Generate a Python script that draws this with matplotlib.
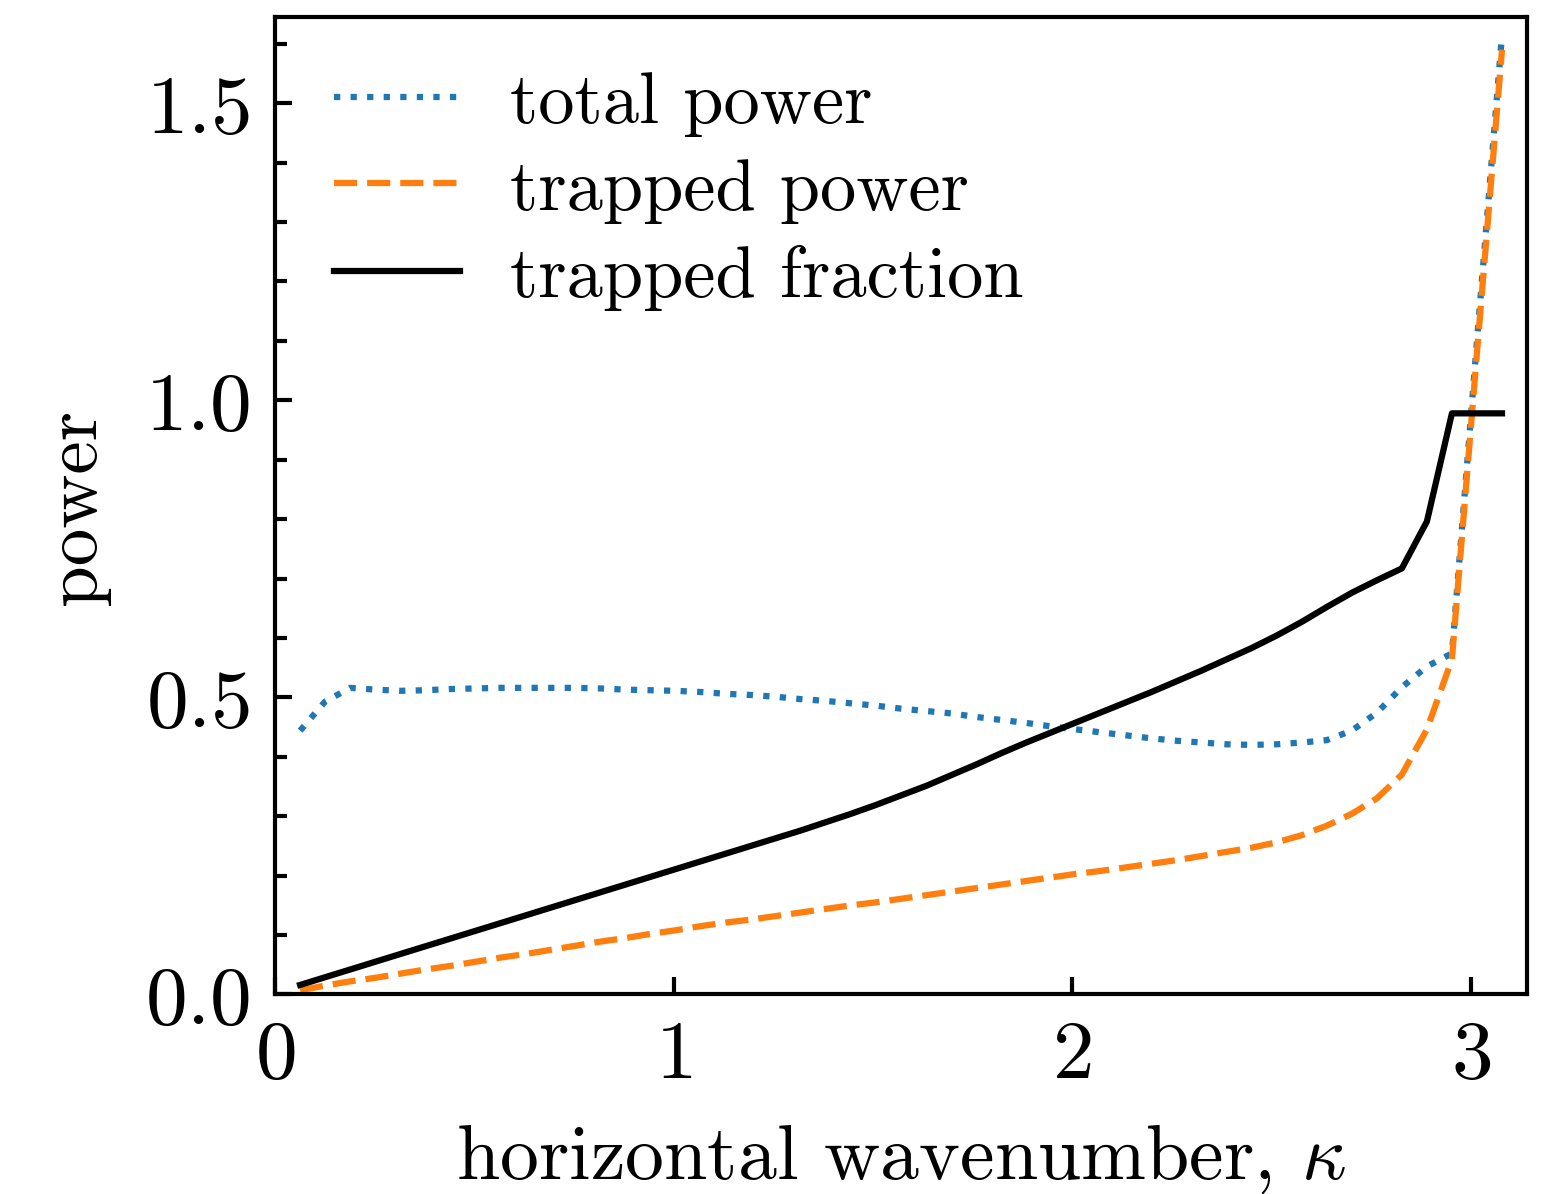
import numpy as np
import matplotlib
matplotlib.use("Agg")
import matplotlib.pyplot as plt
from matplotlib.ticker import MultipleLocator

plt.rcParams['font.family'] = 'serif'
plt.rcParams['font.serif'] = ['cmr10']
plt.rcParams['mathtext.fontset'] = 'cm'
plt.rcParams['axes.formatter.use_mathtext'] = True

# wavenumber grid: k * 2pi/100, k = 1..49
kappa = np.arange(1, 50) * 2 * np.pi / 100

total_power = [
    0.444, 0.493, 0.516, 0.513, 0.511, 0.512, 0.514, 0.515, 0.516, 0.516,
    0.516, 0.516, 0.515, 0.513, 0.512, 0.511, 0.509, 0.506, 0.504, 0.501,
    0.497, 0.494, 0.490, 0.486, 0.481, 0.477, 0.473, 0.467, 0.462, 0.457,
    0.451, 0.446, 0.441, 0.436, 0.431, 0.427, 0.424, 0.421, 0.420, 0.421,
    0.424, 0.428, 0.444, 0.474, 0.517, 0.552, 0.574, 1.100, 1.615,
]
trapped_power = [
    0.007, 0.015, 0.022, 0.028, 0.035, 0.042, 0.048, 0.055, 0.062, 0.068,
    0.075, 0.082, 0.089, 0.095, 0.102, 0.108, 0.115, 0.121, 0.126, 0.132,
    0.138, 0.144, 0.150, 0.155, 0.161, 0.167, 0.173, 0.179, 0.185, 0.191,
    0.197, 0.203, 0.208, 0.214, 0.220, 0.226, 0.233, 0.240, 0.247, 0.256,
    0.268, 0.284, 0.304, 0.330, 0.370, 0.446, 0.564, 1.080, 1.590,
]
trapped_fraction = [
    0.016, 0.029, 0.042, 0.055, 0.068, 0.081, 0.094, 0.107, 0.120, 0.133,
    0.146, 0.159, 0.172, 0.185, 0.198, 0.211, 0.224, 0.237, 0.250, 0.263,
    0.276, 0.290, 0.304, 0.319, 0.335, 0.351, 0.369, 0.387, 0.406, 0.424,
    0.441, 0.458, 0.475, 0.492, 0.509, 0.527, 0.545, 0.564, 0.583, 0.604,
    0.627, 0.652, 0.676, 0.697, 0.717, 0.796, 0.978, 0.978, 0.978,
]

fig = plt.figure(figsize=(5.21, 3.983), dpi=300)
ax = fig.add_axes([0.176, 0.167, 0.801, 0.818])

ax.plot(kappa, total_power, ':', color='#1f77b4', lw=1.5, label='total power')
ax.plot(kappa, trapped_power, '--', color='#ff7f0e', lw=1.5, label='trapped power')
ax.plot(kappa, trapped_fraction, '-', color='k', lw=1.5, label='trapped fraction')

ax.set_xlim(0, np.pi)
ax.set_ylim(0, 1.645)
ax.xaxis.set_major_locator(MultipleLocator(1))
ax.yaxis.set_major_locator(MultipleLocator(0.5))
ax.yaxis.set_minor_locator(MultipleLocator(0.1))
ax.tick_params(which='both', direction='in', width=1.0, labelsize=20)
ax.tick_params(which='major', length=4, pad=6)
ax.tick_params(which='minor', length=2.8)
for s in ax.spines.values():
    s.set_linewidth(1.0)

ax.set_xlabel(r'horizontal wavenumber, $\kappa$', fontsize=18.7, labelpad=7)
ax.set_ylabel('power', fontsize=18, labelpad=8.5)

ax.legend(loc='upper left', bbox_to_anchor=(-0.0025, 1.0075), frameon=False,
          fontsize=17.4, labelspacing=0.3, handlelength=1.74,
          handletextpad=0.7, borderaxespad=0.45)

fig.savefig('out.png', dpi=300)
